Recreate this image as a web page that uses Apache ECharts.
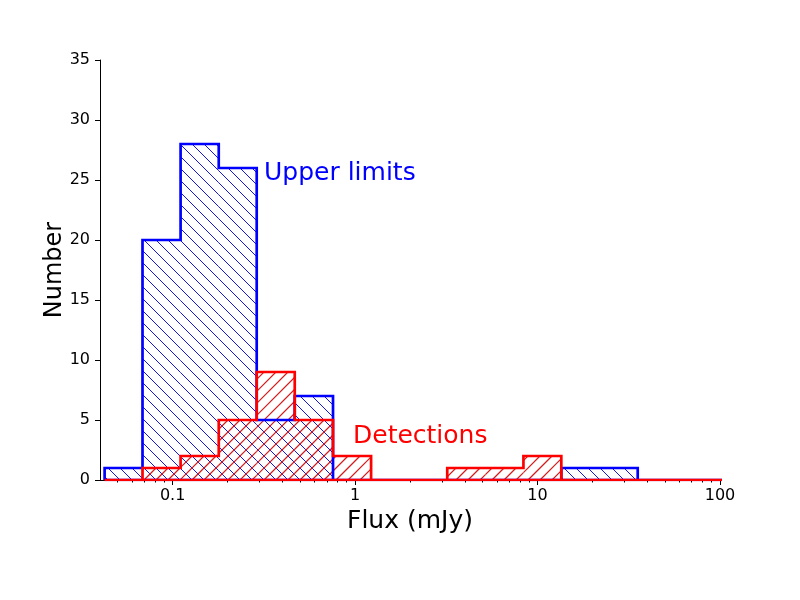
<!DOCTYPE html>
<html>
<head>
<meta charset="utf-8">
<script src="https://cdn.jsdelivr.net/npm/echarts@6/dist/echarts.min.js"></script>
<style>
  html, body { margin: 0; padding: 0; background: #fff; }
  #chart { width: 800px; height: 600px; }
</style>
</head>
<body>
<div id="chart"></div>
<script>
// histogram bin edges in mJy (log-spaced)
const binEdges = [0.0424, 0.0684, 0.1106, 0.179, 0.289, 0.467, 0.757, 1.224, 1.98, 3.2,
  5.18, 8.37, 13.5, 21.9, 35.4, 57.3, 92.6, 150]
const upperLimitCounts = [1, 20, 28, 26, 5, 7, 0, 0, 0, 0, 0, 0, 1, 1, 0, 0, 0]
const detectionCounts = [0, 1, 2, 5, 9, 5, 2, 0, 0, 1, 1, 2, 0, 0, 0, 0, 0]

const majorTicks = [0.1, 1, 10, 100]
const minorTicks = [0.05, 0.06, 0.07, 0.08, 0.09,
  0.2, 0.3, 0.4, 0.5, 0.6, 0.7, 0.8, 0.9,
  2, 3, 4, 5, 6, 7, 8, 9,
  20, 30, 40, 50, 60, 70, 80, 90]

const font = '"DejaVu Sans", sans-serif'
const HATCH_STEP = 12

function binItems(counts) {
  return counts
    .map((n, i) => [binEdges[i], binEdges[i + 1], n])
    .filter((d) => d[2] > 0)
}

function outline(counts) {
  const pts = [[binEdges[0], 0]]
  counts.forEach((n, i) => {
    pts.push([binEdges[i], n], [binEdges[i + 1], n])
  })
  pts.push([binEdges[counts.length], 0], [binEdges[0], 0])
  return pts
}

// diagonal hatch lines inside a pixel rect, on a grid shared by the whole canvas
function hatchLines(x0, y0, x1, y1, dir) {
  const segs = []
  if (dir === 'back') {
    // x - y = c
    const cMin = Math.ceil((x0 - y1) / HATCH_STEP) * HATCH_STEP
    for (let c = cMin; c <= x1 - y0; c += HATCH_STEP) {
      const xa = Math.max(x0, y0 + c)
      const xb = Math.min(x1, y1 + c)
      if (xb > xa) segs.push([xa, xa - c, xb, xb - c])
    }
  } else {
    // x + y = c
    const cMin = Math.ceil((x0 + y0) / HATCH_STEP) * HATCH_STEP
    for (let c = cMin; c <= x1 + y1; c += HATCH_STEP) {
      const xa = Math.max(x0, c - y1)
      const xb = Math.min(x1, c - y0)
      if (xb > xa) segs.push([xa, c - xa, xb, c - xb])
    }
  }
  return segs
}

function hatchRenderer(dir, width) {
  return (params, api) => {
    const color = api.visual('color')
    const top = api.coord([api.value(0), api.value(2)])
    const bottom = api.coord([api.value(1), 0])
    const segs = hatchLines(top[0], top[1], bottom[0], bottom[1], dir)
    return {
      type: 'group',
      silent: true,
      children: segs.map((s) => ({
        type: 'line',
        shape: { x1: s[0], y1: s[1], x2: s[2], y2: s[3] },
        style: { stroke: color, fill: null, lineWidth: width },
      })),
    }
  }
}

const chart = echarts.init(document.getElementById('chart'))

chart.setOption({
  animation: false,
  grid: { left: 100, right: 80, top: 60, bottom: 120 },
  xAxis: [
    {
      type: 'log',
      logBase: 10,
      min: 0.04,
      max: 100,
      name: 'Flux (mJy)',
      nameLocation: 'middle',
      nameGap: 29,
      nameMoveOverlap: false,
      nameTextStyle: { fontFamily: font, fontSize: 25, color: '#000' },
      axisLine: { lineStyle: { color: '#000', width: 1 } },
      axisTick: { inside: false, length: 5, customValues: majorTicks, lineStyle: { color: '#000' } },
      axisLabel: {
        customValues: majorTicks,
        margin: 8,
        fontFamily: font,
        fontSize: 16,
        color: '#000',
        formatter: (v) => String(v),
      },
      splitLine: { show: false },
    },
    {
      type: 'log',
      logBase: 10,
      min: 0.04,
      max: 100,
      position: 'bottom',
      axisLine: { show: false },
      axisTick: { inside: false, length: 2.5, customValues: minorTicks, lineStyle: { color: '#000' } },
      axisLabel: { show: false },
      splitLine: { show: false },
    },
  ],
  yAxis: {
    type: 'value',
    min: 0,
    max: 35,
    interval: 5,
    name: 'Number',
    nameLocation: 'middle',
    nameGap: 33,
    nameMoveOverlap: false,
    nameRotate: 90,
    nameTextStyle: { fontFamily: font, fontSize: 24, color: '#000' },
    axisLine: { show: true, lineStyle: { color: '#000', width: 1 } },
    axisTick: { show: true, inside: false, length: 5, lineStyle: { color: '#000' } },
    axisLabel: { margin: 10, fontFamily: font, fontSize: 16, color: '#000' },
    splitLine: { show: false },
  },
  series: [
    {
      type: 'custom',
      name: 'Upper limits hatch',
      data: binItems(upperLimitCounts),
      encode: { x: [0, 1], y: 2 },
      itemStyle: { color: '#1414e6' },
      renderItem: hatchRenderer('back', 1),
      z: 1,
    },
    {
      type: 'custom',
      name: 'Detections hatch',
      data: binItems(detectionCounts),
      encode: { x: [0, 1], y: 2 },
      itemStyle: { color: '#d01c1c' },
      renderItem: hatchRenderer('fwd', 1.15),
      z: 2,
    },
    {
      type: 'line',
      name: 'Upper limits',
      data: outline(upperLimitCounts),
      symbol: 'none',
      clip: true,
      lineStyle: { color: '#0000ff', width: 2.7, join: 'miter' },
      z: 3,
    },
    {
      type: 'line',
      name: 'Detections',
      data: outline(detectionCounts),
      symbol: 'none',
      clip: true,
      lineStyle: { color: '#ff0000', width: 2.7, join: 'miter' },
      z: 4,
    },
  ],
  graphic: [
    {
      type: 'text',
      x: 264,
      y: 173,
      style: { text: 'Upper limits', fill: '#0000ff', font: '25px "DejaVu Sans"', verticalAlign: 'middle' },
    },
    {
      type: 'text',
      x: 353,
      y: 436,
      style: { text: 'Detections', fill: '#ff0000', font: '25px "DejaVu Sans"', verticalAlign: 'middle' },
    },
  ],
})
</script>
</body>
</html>
